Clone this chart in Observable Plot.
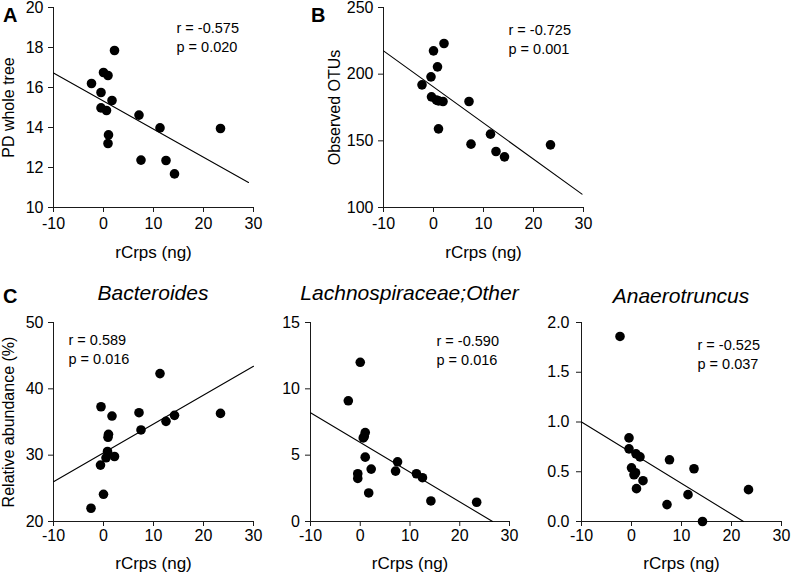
<!DOCTYPE html>
<html><head><meta charset="utf-8">
<script src="https://cdn.jsdelivr.net/npm/d3@7"></script>
<script src="https://cdn.jsdelivr.net/npm/@observablehq/plot@0.6"></script>
<style>
html,body{margin:0;padding:0;background:#fff;}
#fig{position:relative;width:791px;height:573px;overflow:hidden;font-family:"Liberation Sans",Arial,sans-serif;color:#000;}
#fig svg{position:absolute;}
.letter{position:absolute;font-weight:bold;font-size:20px;line-height:20px;white-space:nowrap;}
.title{position:absolute;font-style:italic;font-size:21px;line-height:21px;width:300px;text-align:center;white-space:nowrap;}
</style></head><body>
<div id="fig"></div>
<script>
// ---- data ----
const xTicks = [-10, 0, 10, 20, 30];
const xLabel = "rCrps (ng)";

// Panel A: PD whole tree
const aX = [2.2, -2.4, 0.0, 0.9, -0.5, 1.7, -0.5, 0.6, 7.1, 11.3, 23.4, 1.0, 0.9, 7.5, 12.5, 14.2];
const aY = [17.85, 16.2, 16.75, 16.6, 15.75, 15.35, 14.98, 14.85, 14.62, 13.98, 13.95, 13.63, 13.2, 12.37, 12.35, 11.68];
const aFit = [[-10, 16.72], [29, 11.25]];
const aTicks = [10, 12, 14, 16, 18, 20];
const aStat = ["-0.575", "0.020"];

// Panel B: Observed OTUs
const bX = [2.1, 0.0, 0.8, -0.5, -2.3, -0.4, 0.6, 1.0, 1.9, 7.1, 1.0, 11.4, 7.5, 12.5, 14.2, 23.4];
const bY = [223, 217.5, 205.5, 198, 192, 183, 180.5, 180, 179.5, 179.5, 159, 155, 147.5, 142, 138, 147];
const bFit = [[-10, 217.5], [29.7, 110]];
const bTicks = [100, 150, 200, 250];
const bStat = ["-0.725", "0.001"];

// Panel C1: Bacteroides
const c1X = [11.3, -0.5, 7.1, 1.7, 14.2, 23.4, 12.5, 7.5, 1.0, 0.9, 0.8, 0.5, 2.2, -0.6, 0.0, -2.5];
const c1Y = [42.3, 37.3, 36.4, 35.9, 36.0, 36.3, 35.1, 33.8, 33.15, 32.7, 30.55, 29.6, 29.8, 28.5, 24.1, 22.0];
const c1Fit = [[-10, 26.0], [30, 43.4]];
const c1Ticks = [20, 30, 40, 50];
const c1Stat = ["0.589", "0.016"];

// Panel C2: Lachnospiraceae;Other
const c2X = [0.0, -2.4, 1.0, 0.8, 0.6, 1.0, 7.5, 2.2, 7.1, 11.3, 12.5, -0.5, -0.5, 1.7, 14.2, 23.4];
const c2Y = [12.0, 9.1, 6.7, 6.4, 6.3, 4.85, 4.5, 3.95, 3.8, 3.6, 3.3, 3.6, 3.25, 2.15, 1.55, 1.45];
const c2Fit = [[-10, 8.2], [26.6, 0]];
const c2Ticks = [0, 5, 10, 15];
const c2Stat = ["-0.590", "0.016"];

// Panel C3: Anaerotruncus
const c3X = [-2.3, -0.5, -0.5, 0.9, 1.7, 7.6, 12.5, 0.0, 0.8, 0.5, 2.3, 1.0, 11.3, 23.4, 7.1, 14.2];
const c3Y = [1.86, 0.84, 0.73, 0.68, 0.65, 0.62, 0.53, 0.54, 0.49, 0.47, 0.41, 0.33, 0.27, 0.32, 0.17, 0.0];
const c3Fit = [[-10, 1.0], [22.4, 0]];
const c3Ticks = [0, 0.5, 1.0, 1.5, 2.0];
const c3Stat = ["-0.525", "0.037"];

const panelLetters = ["A", "B", "C"];
const cTitles = ["Bacteroides", "Lachnospiraceae;Other", "Anaerotruncus"];

// ---- drawing ----
const fig = document.getElementById("fig");
const FONT = '"Liberation Sans", Arial, sans-serif';

function panel(o) {
  const pts = o.xs.map((x, i) => ({x, y: o.ys[i]}));
  const fit = o.fit.map(([x, y]) => ({x, y}));
  const y0 = o.yTicks[0], y1 = o.yTicks[o.yTicks.length - 1];
  const marks = [
    Plot.ruleX([xTicks[0]], {stroke: "#1a1a1a", strokeWidth: 1}),
    Plot.ruleY([y0], {stroke: "#1a1a1a", strokeWidth: 1}),
    Plot.axisX({ticks: xTicks, tickSize: 5, tickPadding: o.xPad, tickFormat: d => String(d), label: null, stroke: "#1a1a1a", fill: "#000"}),
    Plot.axisY({ticks: o.yTicks, tickSize: 5, tickPadding: o.yPad, tickFormat: o.yFormat || (d => String(d)), label: null, stroke: "#1a1a1a", fill: "#000"}),
    Plot.line(fit, {x: "x", y: "y", stroke: "#000", strokeWidth: 1.1}),
    Plot.dot(pts, {x: "x", y: "y", r: 4.8, fill: "#000", stroke: "none"}),
    Plot.text([`r = ${o.stat[0]}`], {text: d => d, frameAnchor: "top-left", textAnchor: "start", lineAnchor: "top", dx: o.sdx, dy: o.sdy, fontSize: 14.5, fill: "#000"}),
    Plot.text([`p = ${o.stat[1]}`], {text: d => d, frameAnchor: "top-left", textAnchor: "start", lineAnchor: "top", dx: o.sdx, dy: o.sdy + 19, fontSize: 14.5, fill: "#000"}),
    Plot.text([xLabel], {text: d => d, frameAnchor: "bottom", textAnchor: "middle", lineAnchor: "top", dy: o.xlDy, fontSize: 17, fill: "#000"})
  ];
  if (o.yLabel) marks.push(Plot.text([o.yLabel], {text: d => d, frameAnchor: "left", rotate: -90, textAnchor: "middle", lineAnchor: "top", dx: o.ylDx, fontSize: 16, fill: "#000"}));
  const svg = Plot.plot({
    width: o.width, height: o.height,
    marginLeft: o.mL, marginRight: o.mR, marginTop: o.mT, marginBottom: o.mB,
    style: {fontFamily: FONT, fontSize: "16px", background: "transparent", color: "#000", overflow: "visible"},
    x: {domain: [xTicks[0], xTicks[xTicks.length - 1]]},
    y: {domain: [y0, y1]},
    marks
  });
  svg.style.left = o.left + "px";
  svg.style.top = o.top + "px";
  fig.appendChild(svg);
}

// A: frame x 53-253, y 7-207
panel({xs: aX, ys: aY, fit: aFit, yTicks: aTicks, stat: aStat, yLabel: "PD whole tree",
  left: 0, top: 0, width: 275, height: 270, mL: 53, mR: 22, mT: 7, mB: 63,
  xPad: 5, yPad: 5, sdx: 123, sdy: 15.5, xlDy: 38.5, ylDx: -51});
// B: frame x 383-583, y 7-207
panel({xs: bX, ys: bY, fit: bFit, yTicks: bTicks, stat: bStat, yLabel: "Observed OTUs",
  left: 290, top: 0, width: 310, height: 270, mL: 93, mR: 17, mT: 7, mB: 63,
  xPad: 5, yPad: 5, sdx: 125, sdy: 17, xlDy: 38.5, ylDx: -55});
// C1: frame x 53-253, y 322-521
panel({xs: c1X, ys: c1Y, fit: c1Fit, yTicks: c1Ticks, stat: c1Stat, yLabel: "Relative abundance (%)",
  left: 0, top: 280, width: 270, height: 293, mL: 53, mR: 17, mT: 42, mB: 52,
  xPad: 3, yPad: 5, sdx: 15, sdy: 12, xlDy: 35, ylDx: -51});
// C2: frame x 310-509
panel({xs: c2X, ys: c2Y, fit: c2Fit, yTicks: c2Ticks, stat: c2Stat,
  left: 270, top: 280, width: 260, height: 293, mL: 40, mR: 21, mT: 42, mB: 52,
  xPad: 3, yPad: 5.5, sdx: 126, sdy: 13, xlDy: 35});
// C3: frame x 581-781
panel({xs: c3X, ys: c3Y, fit: c3Fit, yTicks: c3Ticks, yFormat: d3.format(".1f"), stat: c3Stat,
  left: 530, top: 280, width: 261, height: 293, mL: 51, mR: 10, mT: 42, mB: 52,
  xPad: 3, yPad: 7, sdx: 116, sdy: 17, xlDy: 35});

// panel letters and titles (HTML text)
function addText(cls, txt, left, top) {
  const d = document.createElement("div");
  d.className = cls; d.textContent = txt;
  d.style.left = left + "px"; d.style.top = top + "px";
  fig.appendChild(d);
}
addText("letter", panelLetters[0], 3, 4.6);
addText("letter", panelLetters[1], 311, 4.6);
addText("letter", panelLetters[2], 3, 286);
addText("title", cTitles[0], 153 - 150, 282);
addText("title", cTitles[1], 409.5 - 150, 282);
addText("title", cTitles[2], 681 - 150, 285);
</script>
</body></html>
